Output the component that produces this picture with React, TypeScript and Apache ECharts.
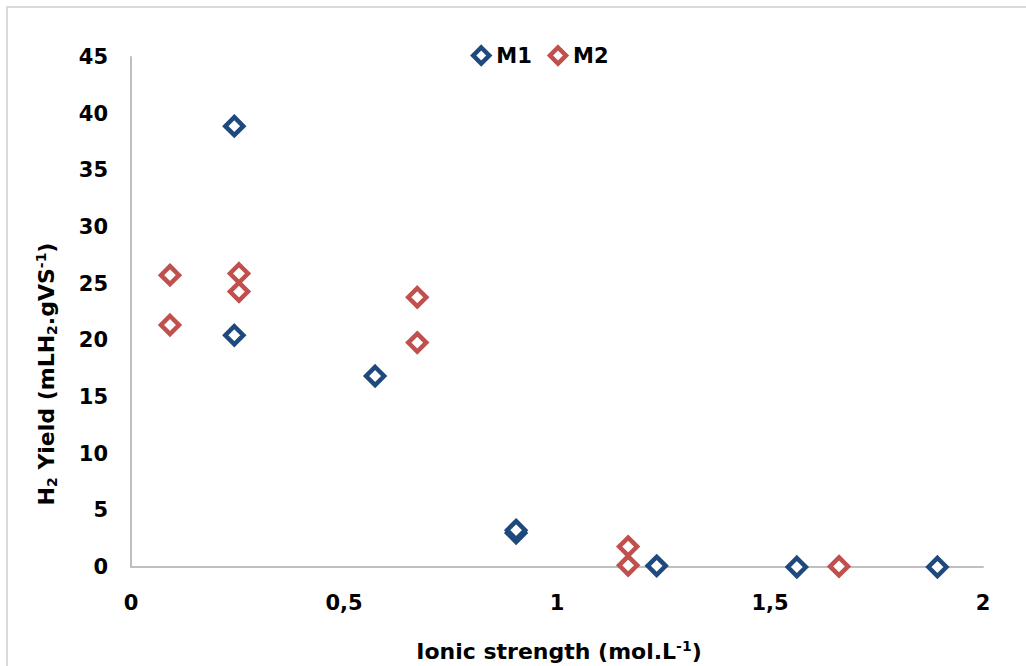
import React, { useEffect, useRef } from "react";
import * as echarts from "echarts";

const xTicks = [0, 0.5, 1, 1.5, 2];
const yTicks = [0, 5, 10, 15, 20, 25, 30, 35, 40, 45];

const m1Data: [number, number][] = [
  [0.2425, 38.9],
  [0.2425, 20.45],
  [0.573, 16.85],
  [0.904, 3.0],
  [0.904, 3.25],
  [1.234, 0.1],
  [1.563, 0],
  [1.893, 0],
];

const m2Data: [number, number][] = [
  [0.0915, 25.75],
  [0.0915, 21.35],
  [0.2535, 25.9],
  [0.2535, 24.3],
  [0.672, 23.8],
  [0.672, 19.8],
  [1.167, 1.8],
  [1.167, 0.15],
  [1.662, 0.05],
];

const BLUE = "#1F497D";
const RED = "#C0504D";
const FONT = "DejaVu Sans";
const FS = 21;
const TFS = 22;

export default function App() {
  const ref = useRef<HTMLDivElement>(null);
  useEffect(() => {
    if (!ref.current) return;
    const chart = echarts.init(ref.current, null, { renderer: "svg" });
    const mkSeries = (name: string, data: [number, number][], color: string) => ({
      name,
      type: "scatter",
      data,
      symbol: "diamond",
      symbolSize: 18,
      itemStyle: { color: "#ffffff", borderColor: color, borderWidth: 4.5, opacity: 1 },
      emphasis: { disabled: true },
    });
    const sub = { fontSize: 14, fontFamily: FONT, fontWeight: "bold", fill: "#000", padding: [11, 0, 0, 0] };
    const sup = { fontSize: 14, fontFamily: FONT, fontWeight: "bold", fill: "#000", padding: [0, 0, 10, 0] };
    chart.setOption({
      animation: false,
      backgroundColor: "#ffffff",
      textStyle: { fontFamily: FONT },
      legend: {
        top: 40,
        left: 466,
        itemWidth: 16,
        itemHeight: 16,
        itemGap: 16,
        itemStyle: { borderWidth: 4.5 },
        textStyle: { fontFamily: FONT, fontWeight: "bold", fontSize: FS, color: "#000", padding: [0, 0, 0, 2] },
        data: ["M1", "M2"],
      },
      grid: { left: 131, right: 43, top: 57, bottom: 99 },
      xAxis: {
        type: "value",
        min: xTicks[0],
        max: xTicks[xTicks.length - 1],
        interval: 0.5,
        axisLine: { show: true, lineStyle: { color: "#BFBFBF", width: 2 } },
        axisTick: { show: false },
        splitLine: { show: false },
        axisLabel: {
          margin: 25,
          fontFamily: FONT,
          fontWeight: "bold",
          fontSize: FS,
          color: "#000",
          formatter: (v: number) => String(v).replace(".", ","),
        },
      },
      yAxis: {
        type: "value",
        min: yTicks[0],
        max: yTicks[yTicks.length - 1],
        interval: 5,
        axisLine: { show: true, lineStyle: { color: "#BFBFBF", width: 2 } },
        axisTick: { show: false },
        splitLine: { show: false },
        axisLabel: {
          margin: 23,
          fontFamily: FONT,
          fontWeight: "bold",
          fontSize: FS,
          color: "#000",
        },
      },
      graphic: [
        {
          type: "rect",
          shape: { x: 7, y: 7, width: 1040, height: 680 },
          style: { fill: "none", stroke: "#D9D9D9", lineWidth: 2 },
          silent: true,
        },
        {
          type: "text",
          x: 46,
          y: 374,
          rotation: Math.PI / 2,
          style: {
            text: "H{sub|2} Yield (mLH{sub|2}.gVS{sup|-1})",
            align: "center",
            verticalAlign: "middle",
            fontFamily: FONT,
            fontWeight: "bold",
            fontSize: TFS,
            fill: "#000",
            rich: { sub, sup },
          },
        },
        {
          type: "text",
          x: 559,
          y: 651,
          style: {
            text: "Ionic strength (mol.L{sup|-1})",
            align: "center",
            verticalAlign: "middle",
            fontFamily: FONT,
            fontWeight: "bold",
            fontSize: TFS,
            fill: "#000",
            rich: { sup },
          },
        },
      ],
      series: [mkSeries("M1", m1Data, BLUE), mkSeries("M2", m2Data, RED)],
    });
    return () => chart.dispose();
  }, []);
  return (
    <div
      ref={ref}
      style={{ position: "absolute", left: 0, top: 0, width: 1026, height: 666 }}
    />
  );
}
